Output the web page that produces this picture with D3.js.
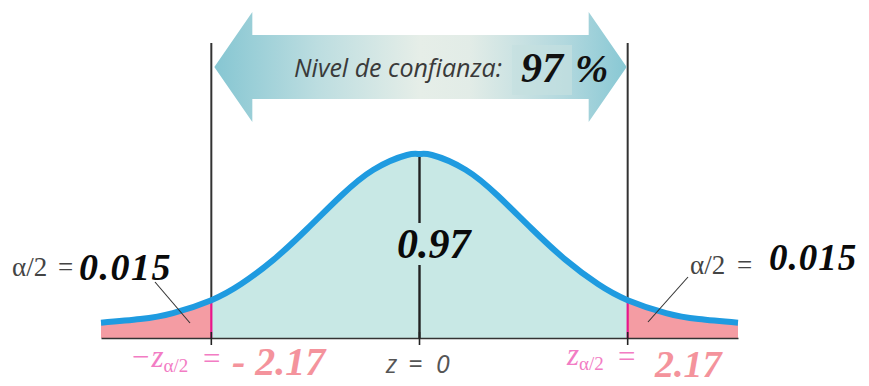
<!DOCTYPE html>
<html>
<head>
<meta charset="utf-8">
<script src="https://cdn.jsdelivr.net/npm/d3@7"></script>
<style>
  html, body { margin: 0; padding: 0; background: #fff; }
  svg { display: block; }
</style>
</head>
<body>
<svg id="chart" width="869" height="386"></svg>
<script>
// Bell curve: z positions and curve heights
const zValues = [-3.32, -2.91, -2.57, -2.17, -1.86, -1.52, -1.17, -0.82, -0.48, -0.13, 0,
                 0.13, 0.48, 0.82, 1.17, 1.52, 1.86, 2.17, 2.57, 2.91, 3.32];
const density = [0.033, 0.041, 0.054, 0.082, 0.117, 0.170, 0.237, 0.308, 0.365, 0.397, 0.399,
                 0.397, 0.365, 0.308, 0.237, 0.170, 0.117, 0.082, 0.054, 0.041, 0.033];

const confidence = 0.97;
const tailArea = 0.015;
const zCritical = 2.17;
const zTicks = [-zCritical, 0, zCritical];

const svg = d3.select("#chart");

const x = d3.scaleLinear().domain([-3.32, 3.32]).range([101, 738]);
const y = d3.scaleLinear().domain([0, 0.4]).range([338, 153.6]);

const points = zValues.map((z, i) => ({ z, d: density[i] }));
const densityAt = z => density[zValues.indexOf(z)];

const defs = svg.append("defs");

// gradient for the double arrow
const grad = defs.append("linearGradient").attr("id", "arrowGrad")
  .attr("x1", "0%").attr("x2", "100%").attr("y1", "0%").attr("y2", "0%");
[[0, "#86c6d2"], [0.25, "#bcdde0"], [0.5, "#e6eee8"], [0.62, "#e2ece7"], [0.85, "#b2d8de"], [1, "#88c8d4"]]
  .forEach(([o, c]) => grad.append("stop").attr("offset", o).attr("stop-color", c));

// clip regions for the two tails
defs.append("clipPath").attr("id", "leftTail").append("rect")
  .attr("x", 0).attr("y", 0).attr("width", x(-zCritical)).attr("height", 386);
defs.append("clipPath").attr("id", "rightTail").append("rect")
  .attr("x", x(zCritical)).attr("y", 0).attr("width", 869 - x(zCritical)).attr("height", 386);

const area = d3.area().x(p => x(p.z)).y0(y(0)).y1(p => y(p.d)).curve(d3.curveNatural);
const line = d3.line().x(p => x(p.z)).y(p => y(p.d)).curve(d3.curveNatural);

// area under the curve
svg.append("path").datum(points).attr("d", area).attr("fill", "#c8e8e5");
svg.append("path").datum(points).attr("d", area).attr("fill", "#f49ca3").attr("clip-path", "url(#leftTail)");
svg.append("path").datum(points).attr("d", area).attr("fill", "#f49ca3").attr("clip-path", "url(#rightTail)");

// boundary lines at the critical values
[-zCritical, zCritical].forEach(z => {
  svg.append("line")
    .attr("x1", x(z)).attr("x2", x(z)).attr("y1", y(0)).attr("y2", y(densityAt(z)))
    .attr("stroke", "#e8168c").attr("stroke-width", 2.2);
  svg.append("line")
    .attr("x1", x(z)).attr("x2", x(z)).attr("y1", 43).attr("y2", y(densityAt(z)))
    .attr("stroke", "#333").attr("stroke-width", 2);
});

// centre line with a gap for its label
svg.append("line").attr("x1", x(0)).attr("x2", x(0)).attr("y1", y(densityAt(0)) + 2).attr("y2", 223)
  .attr("stroke", "#222").attr("stroke-width", 2.4);
svg.append("line").attr("x1", x(0)).attr("x2", x(0)).attr("y1", 265).attr("y2", y(0))
  .attr("stroke", "#222").attr("stroke-width", 2.4);

// curve
svg.append("path").datum(points).attr("d", line)
  .attr("fill", "none").attr("stroke", "#1f9be0").attr("stroke-width", 6).attr("stroke-linecap", "butt");

// axis
const axis = svg.append("g").attr("transform", `translate(0,${y(0)})`)
  .call(d3.axisBottom(x).tickValues(zTicks).tickSize(0).tickFormat(""));
axis.select(".domain").attr("stroke", "#333").attr("stroke-width", 1.6);
zTicks.forEach(z => {
  svg.append("line").attr("x1", x(z)).attr("x2", x(z)).attr("y1", y(0) - 6).attr("y2", y(0) + 7)
    .attr("stroke", "#222").attr("stroke-width", 1.6);
});

// double arrow
const xl = x(-zCritical) + 3, xr = x(zCritical) - 1;
const cy = 67, headW = 38, shaftH = 32, headH = 55;
const arrowPts = [
  [xl, cy], [xl + headW, cy - headH], [xl + headW, cy - shaftH],
  [xr - headW, cy - shaftH], [xr - headW, cy - headH], [xr, cy],
  [xr - headW, cy + headH], [xr - headW, cy + shaftH], [xl + headW, cy + shaftH],
  [xl + headW, cy + headH]
];
svg.append("path").attr("d", d3.line()(arrowPts) + "Z").attr("fill", "url(#arrowGrad)");
svg.append("rect").attr("x", 512).attr("y", 45).attr("width", 60).attr("height", 50)
  .attr("fill", "#c4dfdf").attr("opacity", 0.7);

svg.append("text").attr("x", 294).attr("y", 77)
  .attr("font-family", "Open Sans, DejaVu Sans, sans-serif").attr("font-style", "italic")
  .attr("font-size", 25).attr("fill", "#3a3a3a").text("Nivel de confianza:");
svg.append("text").attr("x", 521).attr("y", 82)
  .attr("font-family", "Liberation Serif, serif").attr("font-style", "italic").attr("font-weight", "bold")
  .attr("font-size", 42).attr("fill", "#111").text(d3.format(".0f")(confidence * 100));
svg.append("text").attr("x", 575).attr("y", 82)
  .attr("font-family", "Liberation Serif, serif").attr("font-style", "italic").attr("font-weight", "bold")
  .attr("font-size", 40).attr("fill", "#111").text("%");

// area labels
const boldItalic = sel => sel.attr("font-family", "Liberation Serif, serif")
  .attr("font-style", "italic").attr("font-weight", "bold").attr("fill", "#0a0a0a");

svg.append("text").attr("x", 397).attr("y", 258).attr("font-size", 42)
  .call(boldItalic).text(d3.format(".2f")(confidence));

const serif = sel => sel.attr("font-family", "Liberation Serif, serif").attr("fill", "#444");

svg.append("text").attr("x", 12).attr("y", 276).attr("font-size", 27).call(serif).text("α/2");
svg.append("text").attr("x", 58).attr("y", 276).attr("font-size", 27).call(serif).text("=");
svg.append("text").attr("x", 79).attr("y", 280).attr("font-size", 38).attr("letter-spacing", 1.5)
  .call(boldItalic).text(d3.format(".3f")(tailArea));

svg.append("text").attr("x", 690).attr("y", 274).attr("font-size", 27).call(serif).text("α/2");
svg.append("text").attr("x", 737).attr("y", 274).attr("font-size", 27).call(serif).text("=");
svg.append("text").attr("x", 769).attr("y", 270).attr("font-size", 37).attr("letter-spacing", 1)
  .call(boldItalic).text(d3.format(".3f")(tailArea));

// leader lines
svg.append("line").attr("x1", 155).attr("y1", 282).attr("x2", 190).attr("y2", 323)
  .attr("stroke", "#333").attr("stroke-width", 1.1);
svg.append("line").attr("x1", 688).attr("y1", 277).attr("x2", 648).attr("y2", 322)
  .attr("stroke", "#333").attr("stroke-width", 1.1);

// critical value labels
const pinkSym = "#f27cc4", salmon = "#f4939c";

const leftLab = svg.append("text").attr("x", 132).attr("y", 367)
  .attr("font-family", "Liberation Serif, serif").attr("fill", pinkSym).attr("font-size", 31);
leftLab.append("tspan").text("−");
leftLab.append("tspan").attr("font-style", "italic").attr("dx", 2).text("z");
leftLab.append("tspan").attr("font-size", 19).attr("dy", 5).text("α/2");
svg.append("text").attr("x", 203).attr("y", 369).attr("font-family", "Liberation Serif, serif")
  .attr("fill", pinkSym).attr("font-size", 31).text("=");
svg.append("text").attr("x", 232).attr("y", 375).attr("font-family", "Liberation Serif, serif")
  .attr("font-style", "italic").attr("font-weight", "bold").attr("fill", salmon).attr("font-size", 40)
  .text("- " + d3.format(".2f")(zCritical));

const sans = sel => sel.attr("font-family", "Open Sans, DejaVu Sans, sans-serif")
  .attr("font-style", "italic").attr("fill", "#555").attr("font-size", 25);
svg.append("text").attr("x", 386).attr("y", 373).call(sans).text("z");
svg.append("text").attr("x", 408).attr("y", 373).call(sans).text("=");
svg.append("text").attr("x", 436).attr("y", 373).call(sans).text(String(zTicks[1]));

const rightLab = svg.append("text").attr("x", 567).attr("y", 365)
  .attr("font-family", "Liberation Serif, serif").attr("fill", pinkSym).attr("font-size", 31);
rightLab.append("tspan").attr("font-style", "italic").text("z");
rightLab.append("tspan").attr("font-size", 19).attr("dy", 5).text("α/2");
svg.append("text").attr("x", 618).attr("y", 367).attr("font-family", "Liberation Serif, serif")
  .attr("fill", pinkSym).attr("font-size", 31).text("=");
svg.append("text").attr("x", 655).attr("y", 377).attr("font-family", "Liberation Serif, serif")
  .attr("font-style", "italic").attr("font-weight", "bold").attr("fill", salmon).attr("font-size", 38)
  .text(d3.format(".2f")(zCritical));
</script>
</body>
</html>
